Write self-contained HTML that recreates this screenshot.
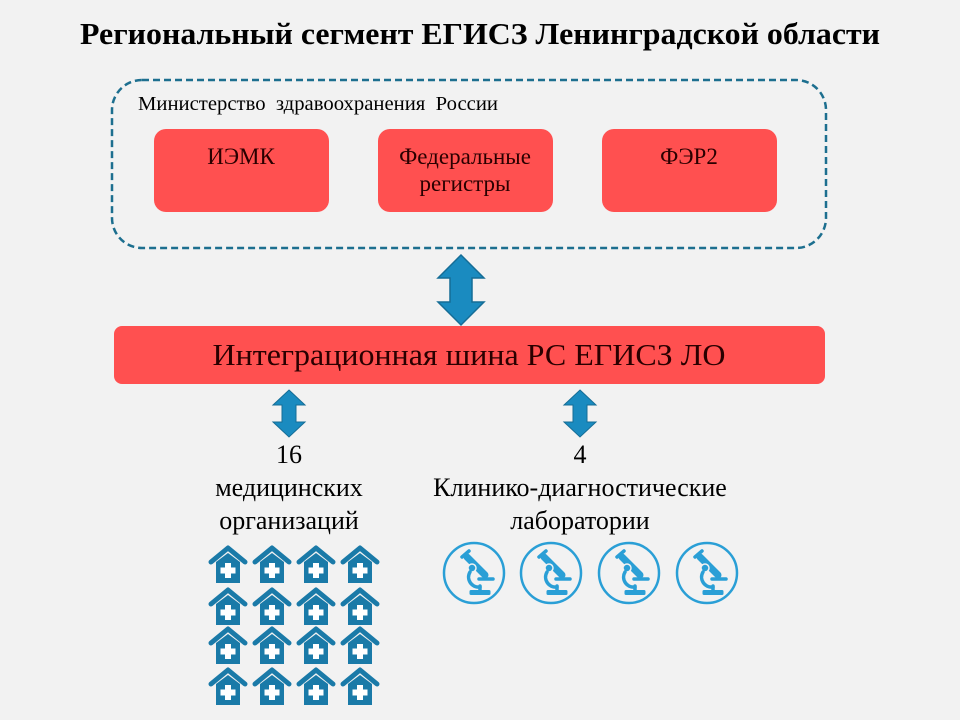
<!DOCTYPE html>
<html><head><meta charset="utf-8"><style>
body{margin:0;width:960px;height:720px;background:#f2f2f2;overflow:hidden;font-family:"Liberation Serif",serif;}
</style></head><body>
<svg width="960" height="720" xmlns="http://www.w3.org/2000/svg" style="position:absolute;left:0;top:0">
<defs>
<g id="house">
<path d="M3,17 L20,3 L37,17" fill="none" stroke="#1a7aa8" stroke-width="5" stroke-linecap="round" stroke-linejoin="round"/>
<path d="M8,17 L20,8 L32,17 L32,38 L8,38 Z" fill="#1a7aa8"/>
<rect x="17" y="18" width="6" height="15" fill="#fff"/>
<rect x="12.5" y="22.5" width="15" height="6" fill="#fff"/>
</g>
<g id="mic">
<circle cx="0" cy="0" r="30" fill="none" stroke="#2a9fd6" stroke-width="2.5"/>
<g transform="translate(-31,-31)" fill="none" stroke="#2a9fd6" stroke-linecap="round">
<line x1="19" y1="15" x2="26" y2="9" stroke-width="3.5"/>
<line x1="24" y1="15" x2="42" y2="33" stroke-width="7"/>
<circle cx="29" cy="26" r="4" fill="#2a9fd6" stroke="#f2f2f2" stroke-width="1.5"/>
<path d="M27,30 A10,10 0 0 0 37,45" stroke-width="3.5"/>
<line x1="36" y1="37" x2="50" y2="37" stroke-width="3.5"/>
<line x1="37" y1="44" x2="37" y2="49" stroke-width="3.5"/>
<rect x="27" y="48.5" width="20" height="4" rx="1" fill="#2a9fd6" stroke-width="1"/>
</g>
</g>
</defs>
<text x="480" y="44" text-anchor="middle" font-family="Liberation Serif" font-weight="bold" font-size="31" fill="#000" textLength="800" lengthAdjust="spacingAndGlyphs">Региональный сегмент ЕГИСЗ Ленинградской области</text>
<rect x="112" y="80" width="714" height="168" rx="30" fill="none" stroke="#1d6f8f" stroke-width="2.5" stroke-dasharray="7,4"/>
<text x="138" y="110" font-size="20" fill="#000" xml:space="preserve" textLength="360" lengthAdjust="spacingAndGlyphs">Министерство  здравоохранения  России</text>
<rect x="154" y="129" width="175" height="83" rx="12" fill="#ff5050"/>
<rect x="378" y="129" width="175" height="83" rx="12" fill="#ff5050"/>
<rect x="602" y="129" width="175" height="83" rx="12" fill="#ff5050"/>
<g font-size="23" fill="#2a0000" text-anchor="middle">
<text x="241" y="164">ИЭМК</text>
<text x="465" y="164">Федеральные</text>
<text x="465" y="191">регистры</text>
<text x="689" y="164">ФЭР2</text>
</g>
<path d="M461,255 L484,278 L472,278 L472,302 L484,302 L461,325 L438,302 L450,302 L450,278 L438,278 Z" fill="#1a8bc0" stroke="#156d96" stroke-width="1.5"/>
<rect x="114" y="326" width="711" height="58" rx="8" fill="#ff5050"/>
<text x="469" y="365" text-anchor="middle" font-size="31" fill="#2a0000" textLength="513" lengthAdjust="spacingAndGlyphs">Интеграционная шина РС ЕГИСЗ ЛО</text>
<path d="M289,390 L305,405 L296,405 L296,422 L305,422 L289,437 L273,422 L282,422 L282,405 L273,405 Z" fill="#1a8bc0" stroke="#156d96" stroke-width="1"/>
<path d="M580,390 L596,405 L587,405 L587,422 L596,422 L580,437 L564,422 L573,422 L573,405 L564,405 Z" fill="#1a8bc0" stroke="#156d96" stroke-width="1"/>
<g font-size="26" fill="#000" text-anchor="middle">
<text x="289" y="463">16</text>
<text x="289" y="496">медицинских</text>
<text x="289" y="529">организаций</text>
<text x="580" y="463">4</text>
<text x="580" y="496">Клинико-диагностические</text>
<text x="580" y="529">лаборатории</text>
</g>
<g>
<use href="#house" x="208" y="545"/><use href="#house" x="252" y="545"/><use href="#house" x="296" y="545"/><use href="#house" x="340" y="545"/>
<use href="#house" x="208" y="587"/><use href="#house" x="252" y="587"/><use href="#house" x="296" y="587"/><use href="#house" x="340" y="587"/>
<use href="#house" x="208" y="626"/><use href="#house" x="252" y="626"/><use href="#house" x="296" y="626"/><use href="#house" x="340" y="626"/>
<use href="#house" x="208" y="667"/><use href="#house" x="252" y="667"/><use href="#house" x="296" y="667"/><use href="#house" x="340" y="667"/>
</g>
<use href="#mic" x="474" y="573"/>
<use href="#mic" x="551" y="573"/>
<use href="#mic" x="629" y="573"/>
<use href="#mic" x="707" y="573"/>
</svg>
</body></html>
